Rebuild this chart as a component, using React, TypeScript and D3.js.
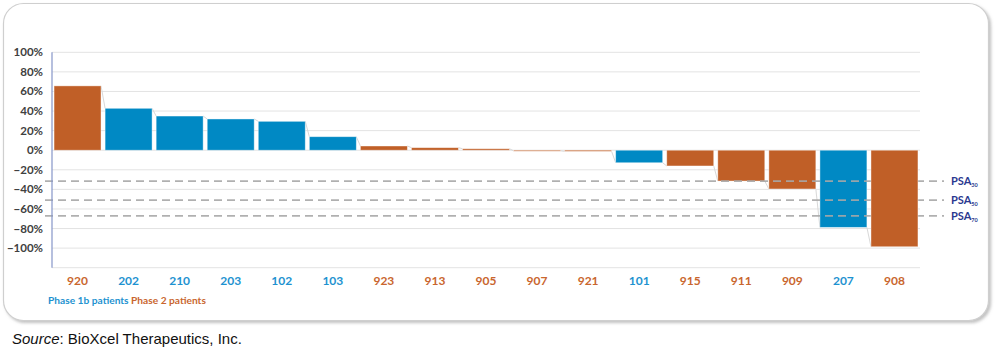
import React from "react";
import * as d3 from "d3";

const patients = ["920","202","210","203","102","103","923","913","905","907","921","101","915","911","909","207","908"];
const changes = [65.7, 42.8, 34.9, 31.9, 29.5, 13.8, 4.3, 2.6, 1.5, -0.6, -1.2, -12.8, -16.1, -31.5, -39.6, -78.8, -98.6];
const phases = ["2","1b","1b","1b","1b","1b","2","2","2","2","2","1b","2","2","2","1b","2"];
const yTicks = [100, 80, 60, 40, 20, 0, -20, -40, -60, -80, -100];
const gridValues = [100, 80, 60, 40, 20, 0, -20, -40, -60, -80, -100, -120];
const psaLevels = [-31.5, -51, -67];
const psaSubs = ["30", "50", "70"];
const legendItems = [{ label: "Phase 1b patients", phase: "1b" }, { label: "Phase 2 patients", phase: "2" }];

const BLUE = "#0089C4";
const ORANGE = "#C05F27";
const BLUE_TXT = "#1E92D0";
const ORANGE_TXT = "#C9662E";
const FONT = "Lato, 'Open Sans', sans-serif";

export default function App() {
  const W = 996, H = 355;
  const x = d3.scaleBand<string>().domain(patients).range([52, 920]).paddingInner(0.08).paddingOuter(0.04);
  const y = d3.scaleLinear().domain([-120, 100]).range([267.7, 52.3]);
  const bw = x.bandwidth();
  const color = (p: string) => (p === "1b" ? BLUE : ORANGE);
  const tcolor = (p: string) => (p === "1b" ? BLUE_TXT : ORANGE_TXT);

  const bar = (p: string, i: number) => {
    const v = changes[i];
    const y0 = y(0), y1 = y(v);
    return (
      <rect key={"b" + p} x={x(p)} y={Math.min(y0, y1)} width={bw}
        height={Math.max(1, Math.abs(y1 - y0))} fill={color(phases[i])}
        stroke="#ffffff" strokeOpacity={0.5} strokeWidth={0.8} />
    );
  };
  const last = patients.length - 1;

  return (
    <div style={{ position: "absolute", left: 0, top: 0, width: W, height: H, background: "#fff" }}>
      <svg width={W} height={H} style={{ display: "block" }}>
        <defs>
          <filter id="sh" x="-5%" y="-5%" width="110%" height="115%">
            <feDropShadow dx="2" dy="2" stdDeviation="1.5" floodColor="#9a9a9a" floodOpacity="0.6" />
          </filter>
        </defs>
        <rect x={3.5} y={3.5} width={985} height={317} rx={20} fill="#fff" stroke="#cfcfcf" strokeWidth={1.2} filter="url(#sh)" />

        {gridValues.map((v) => (
          <line key={"g" + v} x1={52} x2={920} y1={y(v)} y2={y(v)} stroke="#e3e3e3" strokeWidth={1} />
        ))}

        {changes.slice(0, -1).map((v, i) => (
          <line key={"s" + i}
            x1={(x(patients[i]) as number) + bw} y1={y(v)}
            x2={x(patients[i + 1]) as number} y2={y(changes[i + 1])}
            stroke="#d8d8d8" strokeWidth={1} />
        ))}

        {patients.slice(0, last).map((p, i) => bar(p, i))}

        {psaLevels.map((v, i) => (
          <line key={"psa" + i} x1={45} x2={944} y1={y(v)} y2={y(v)} stroke="#a8a8a8" strokeWidth={1.8} strokeDasharray="8,5" opacity={0.9} />
        ))}

        {bar(patients[last], last)}

        <line x1={52} x2={52} y1={52.3} y2={267.7} stroke="#8595c8" strokeWidth={1.2} />

        {yTicks.map((v) => (
          <text key={"t" + v} x={43} y={y(v)} dy="0.35em" textAnchor="end" fontFamily={FONT} fontWeight={700} fontSize={11.5} fill="#404040">
            {d3.format("d")(v) + "%"}
          </text>
        ))}

        {patients.map((p, i) => (
          <text key={"l" + p} x={(x(p) as number) + bw / 2} y={284.5} textAnchor="middle" fontFamily={FONT} fontWeight={700} fontSize={12} fill={tcolor(phases[i])}>
            {p}
          </text>
        ))}

        {psaLevels.map((v, i) => (
          <text key={"pl" + i} x={951} y={y(v)} dy="0.35em" fontFamily={FONT} fontWeight={700} fontSize={11} fill="#2B3990">
            PSA<tspan fontSize={5.5} dy="2.5">{psaSubs[i]}</tspan>
          </text>
        ))}

        <text x={48} y={304} fontFamily={FONT} fontWeight={700} fontSize={10.2}>
          {legendItems.map((it, i) => (
            <tspan key={"lg" + i} fill={tcolor(it.phase)}>{(i > 0 ? " " : "") + it.label}</tspan>
          ))}
        </text>

        <text x={12} y={344} fontFamily="'Liberation Sans', Arial, sans-serif" fontSize={15} fill="#111">
          <tspan fontStyle="italic">Source</tspan>: BioXcel Therapeutics, Inc.
        </text>
      </svg>
    </div>
  );
}
